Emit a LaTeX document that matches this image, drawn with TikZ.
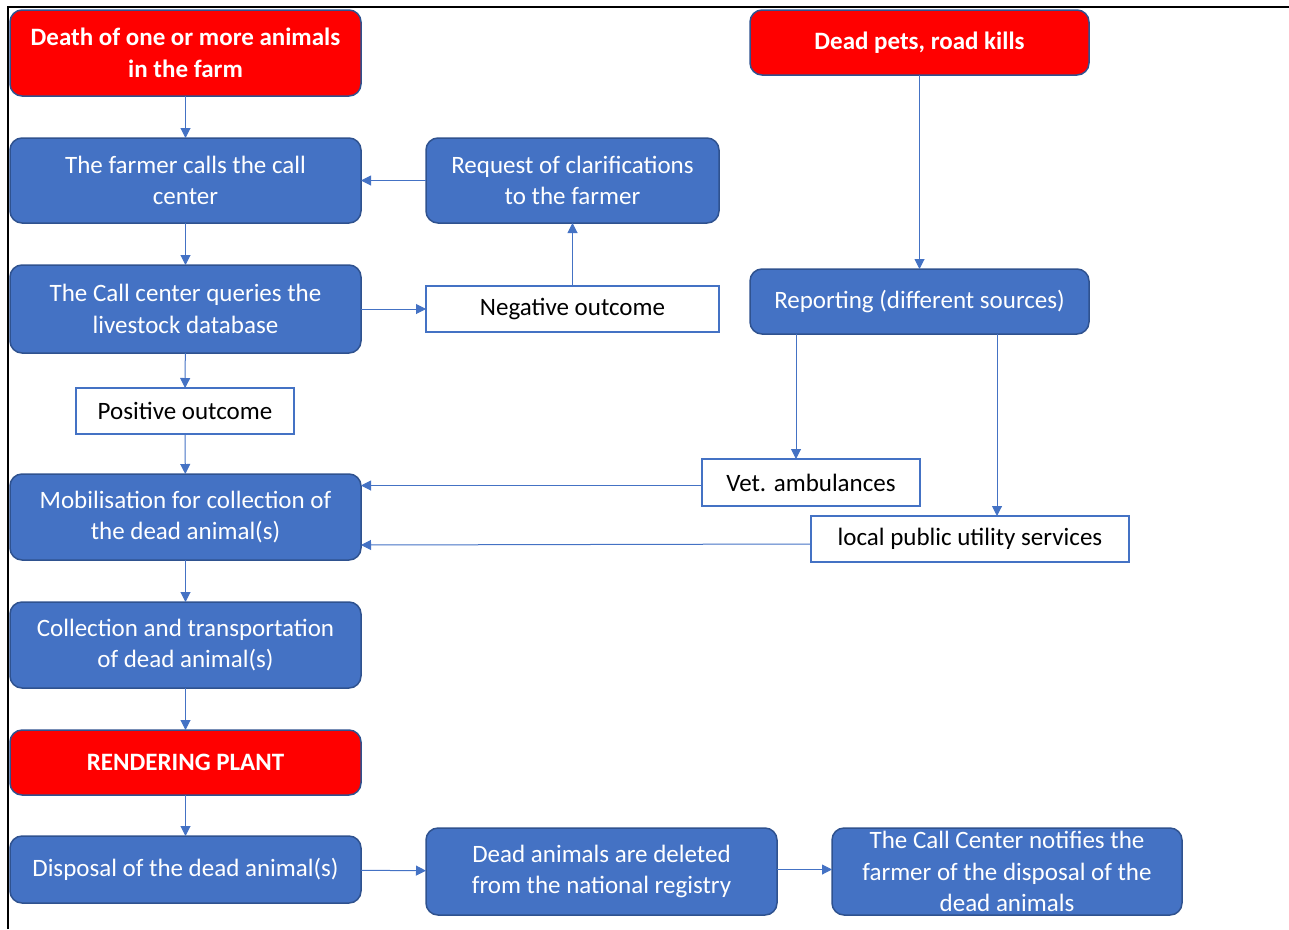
\documentclass[tikz,border=0pt]{standalone}
\usepackage{fontspec}
\setmainfont{Carlito}
\usetikzlibrary{arrows.meta}
\definecolor{boxblue}{HTML}{4472C4}
\definecolor{edgeblue}{HTML}{2F528F}
\definecolor{alarm}{HTML}{FF0000}
\begin{document}
\begin{tikzpicture}[x=1pt,y=-1pt,
  every node/.style={inner sep=0pt, outer sep=0pt, align=center, font=\fontsize{25}{31.5}\selectfont},
  bluebox/.style={draw=edgeblue, line width=1.5pt, fill=boxblue, text=white, rounded corners=12pt},
  redbox/.style={draw=edgeblue, line width=1.5pt, fill=alarm, text=white, rounded corners=12pt, font=\fontsize{25}{31.5}\selectfont\bfseries},
  outcome/.style={draw=boxblue, line width=1.2pt, fill=white, text=black},
  flow/.style={draw=boxblue, line width=1pt, -{Triangle[length=10pt,width=10pt]}}
]
% page frame
\useasboundingbox (0,0) rectangle (1289,929);
\draw[line width=2pt] (8,929) -- (8,7) -- (1289,7);

% box helper: name, style, x1, y1, x2, y2, text
\newcommand{\flowbox}[7]{%
  \node[#2, minimum width={#5-#3}, minimum height={#6-#4}] (#1) at ({(#3+#5)/2},{(#4+#6)/2}) {#7};}

\flowbox{death}{redbox}{10}{10}{361}{96}{Death of one or more animals\\in the farm}
\flowbox{calls}{bluebox}{10}{138}{361}{223}{The farmer calls the call\\center}
\flowbox{query}{bluebox}{10}{265}{361}{353}{The Call center queries the\\livestock database}
\flowbox{pos}{outcome}{76}{388}{294}{434}{Positive outcome}
\flowbox{mobil}{bluebox}{10}{474}{361}{560}{Mobilisation for collection of\\the dead animal(s)}
\flowbox{collect}{bluebox}{10}{602}{361}{688}{Collection and transportation\\of dead animal(s)}
\flowbox{plant}{redbox}{10}{730}{361}{795}{RENDERING PLANT}
\flowbox{dispose}{bluebox}{10}{836}{361}{903}{Disposal of the dead animal(s)}
\flowbox{request}{bluebox}{426}{138}{719}{223}{Request of clarifications\\to the farmer}
\flowbox{neg}{outcome}{426}{286}{719}{332}{Negative outcome}
\flowbox{pets}{redbox}{750}{10}{1089}{75}{Dead pets, road kills}
\flowbox{report}{bluebox}{750}{269}{1089}{334}{Reporting (different sources)}
\flowbox{vet}{outcome}{702}{459}{920}{506}{Vet. ambulances}
\flowbox{local}{outcome}{811}{516}{1129}{562}{local public utility services}
\flowbox{deleted}{bluebox}{426}{828}{777}{915}{Dead animals are deleted\\from the national registry}
\flowbox{notify}{bluebox}{832}{828}{1182}{915}{The Call Center notifies the\\farmer of the disposal of the\\dead animals}

% main vertical chain
\draw[flow] (death) -- (calls);
\draw[flow] (calls) -- (query);
\draw[flow] (query) -- (pos);
\draw[flow] (pos) -- (mobil);
\draw[flow] (mobil) -- (collect);
\draw[flow] (collect) -- (plant);
\draw[flow] (plant) -- (dispose);

% negative loop back to the farmer
\draw[flow] (query.east |- neg) -- (neg.west);
\draw[flow] (neg.north) -- (request.south);
\draw[flow] (request.west) -- (calls.east);

% pets and road kills
\draw[flow] (pets) -- (report);
\draw[flow] (report.south -| vet.north) ++(-15,0) coordinate (vtop) -- (vtop |- vet.north);
\draw[flow] (report.south -| local.north) ++(27,0) coordinate (ltop) -- (ltop |- local.north);
\draw[flow] ([yshift=-3pt]vet.west) -- ([yshift=-3pt]mobil.east |- vet.west);
\draw[flow] ([yshift=-5pt]local.west) -- ([yshift=-6pt]mobil.east |- local.west);

% bottom row
\draw[flow] (dispose) -- (deleted);
\draw[flow] (deleted.east |- dispose.east) -- (notify.west |- dispose.east);
\end{tikzpicture}
\end{document}
